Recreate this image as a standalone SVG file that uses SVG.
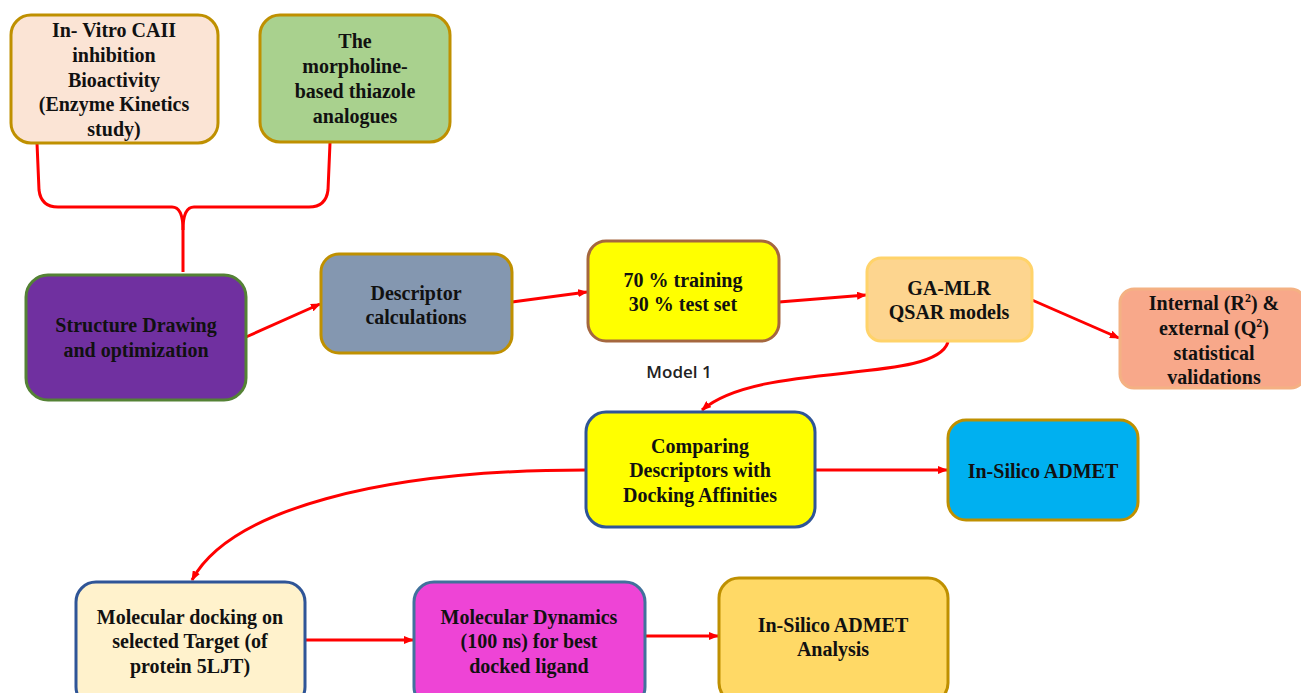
<svg xmlns="http://www.w3.org/2000/svg" width="1301" height="693" viewBox="0 0 1301 693">
<defs>
<marker id="ah" markerWidth="10" markerHeight="8" refX="9" refY="4" orient="auto" markerUnits="userSpaceOnUse">
<path d="M0,0 L10,4 L0,8 z" fill="#ff0000"/>
</marker>
<style>
.box{stroke-width:3}
.t{font-family:"Liberation Serif","Times New Roman",serif;font-weight:bold;font-size:20px;fill:#111;text-anchor:middle}
.c{fill:none;stroke:#ff0000;stroke-width:3}
.a{fill:none;stroke:#ff0000;stroke-width:3;marker-end:url(#ah)}
.lbl{font-family:"Open Sans","Liberation Sans",sans-serif;font-weight:600;font-size:17px;fill:#222;text-anchor:middle}
</style>
</defs>
<rect width="1301" height="693" fill="#ffffff"/>

<g id="connectors">
<path class="c" d="M37,143 L39,190 Q41,207 58,207 L172,207 Q183,207 183,230 L183,272"/>
<path class="c" d="M330,143 L328,190 Q326,207 309,207 L194,207 Q183,207 183,230"/>
<path class="a" d="M246,337 L320,304"/>
<path class="a" d="M512,302 L587,292"/>
<path class="a" d="M779,302 L866,295"/>
<path class="a" d="M1032,300 L1119,338"/>
<path class="a" d="M948,342 C935,385 760,360 702,410"/>
<path class="a" d="M815,470 L947,470"/>
<path class="a" d="M586,470 C380,470 230,510 192,580"/>
<path class="a" d="M305,640 L413,640"/>
<path class="a" d="M645,636 L718,636"/>
</g>

<g id="n-invitro">
<rect class="box" x="11" y="15" width="207" height="128" rx="20" fill="#fbe4d5" stroke="#bf9000"/>
<text class="t" font-size="21" x="114" y="37">In- Vitro CAII</text>
<text class="t" font-size="21" x="114" y="62">inhibition</text>
<text class="t" font-size="21" x="114" y="87">Bioactivity</text>
<text class="t" font-size="21" x="114" y="111">(Enzyme Kinetics</text>
<text class="t" font-size="21" x="114" y="136">study)</text>
</g>

<g id="n-morpholine">
<rect class="box" x="260" y="15" width="190" height="127" rx="20" fill="#a9d18e" stroke="#bf9000"/>
<text class="t" font-size="23" x="355" y="48">The</text>
<text class="t" font-size="23" x="355" y="73">morpholine-</text>
<text class="t" font-size="23" x="355" y="98">based thiazole</text>
<text class="t" font-size="23" x="355" y="123">analogues</text>
</g>

<g id="n-structure">
<rect class="box" x="26" y="275" width="220" height="125" rx="22" fill="#7030a0" stroke="#548235"/>
<text class="t" x="136" y="332" fill="#1a1638">Structure Drawing</text>
<text class="t" x="136" y="357" fill="#1a1638">and optimization</text>
</g>

<g id="n-descriptor">
<rect class="box" x="321" y="254" width="191" height="99" rx="18" fill="#8497b0" stroke="#bf9000"/>
<text class="t" font-size="23" x="416" y="300">Descriptor</text>
<text class="t" font-size="23" x="416" y="324">calculations</text>
</g>

<g id="n-split">
<rect class="box" x="588" y="241" width="191" height="100" rx="18" fill="#ffff00" stroke="#a5673f"/>
<text class="t" font-size="20.5" x="683" y="287">70 % training</text>
<text class="t" font-size="20.5" x="683" y="311">30 % test set</text>
</g>

<g id="n-gamlr">
<rect class="box" x="867" y="258" width="165" height="83" rx="14" fill="#fdd58f" stroke="#ffd36a" stroke-width="2"/>
<text class="t" font-size="21" x="949" y="295">GA-MLR</text>
<text class="t" font-size="21" x="949" y="319">QSAR models</text>
</g>

<text class="lbl" x="679" y="378">Model 1</text>

<g id="n-validation">
<rect class="box" x="1120" y="289" width="185" height="99" rx="14" fill="#f8a88a" stroke="#f4b183" stroke-width="2"/>
<text class="t" font-size="20.5" x="1214" y="310">Internal (R<tspan font-size="12" dy="-8">2</tspan><tspan dy="8">) &amp;</tspan></text>
<text class="t" font-size="20.5" x="1214" y="335">external (Q<tspan font-size="12" dy="-8">2</tspan><tspan dy="8">)</tspan></text>
<text class="t" font-size="20.5" x="1214" y="360">statistical</text>
<text class="t" font-size="20.5" x="1214" y="384">validations</text>
</g>

<g id="n-comparing">
<rect class="box" x="586" y="412" width="229" height="115" rx="20" fill="#ffff00" stroke="#2f5597"/>
<text class="t" x="700" y="453">Comparing</text>
<text class="t" x="700" y="477">Descriptors with</text>
<text class="t" x="700" y="502">Docking Affinities</text>
</g>

<g id="n-admet">
<rect class="box" x="948" y="420" width="190" height="100" rx="18" fill="#00b0f0" stroke="#bf9000" stroke-width="2"/>
<text class="t" font-size="20.5" x="1043" y="478">In-Silico ADMET</text>
</g>

<g id="n-docking">
<rect class="box" x="76" y="582" width="229" height="125" rx="20" fill="#fff2cc" stroke="#2f5597"/>
<text class="t" font-size="21" x="190" y="624">Molecular docking on</text>
<text class="t" font-size="21" x="190" y="648">selected Target (of</text>
<text class="t" font-size="21" x="190" y="673">protein 5LJT)</text>
</g>

<g id="n-dynamics">
<rect class="box" x="414" y="582" width="231" height="125" rx="20" fill="#ee44d6" stroke="#41719c" stroke-width="4"/>
<text class="t" font-size="21" x="529" y="624">Molecular Dynamics</text>
<text class="t" font-size="21" x="529" y="648">(100 ns) for best</text>
<text class="t" font-size="21" x="529" y="673">docked ligand</text>
</g>

<g id="n-analysis">
<rect class="box" x="719" y="578" width="229" height="125" rx="20" fill="#ffd966" stroke="#bf9000"/>
<text class="t" font-size="21" x="833" y="632">In-Silico ADMET</text>
<text class="t" font-size="21" x="833" y="656">Analysis</text>
</g>
</svg>
